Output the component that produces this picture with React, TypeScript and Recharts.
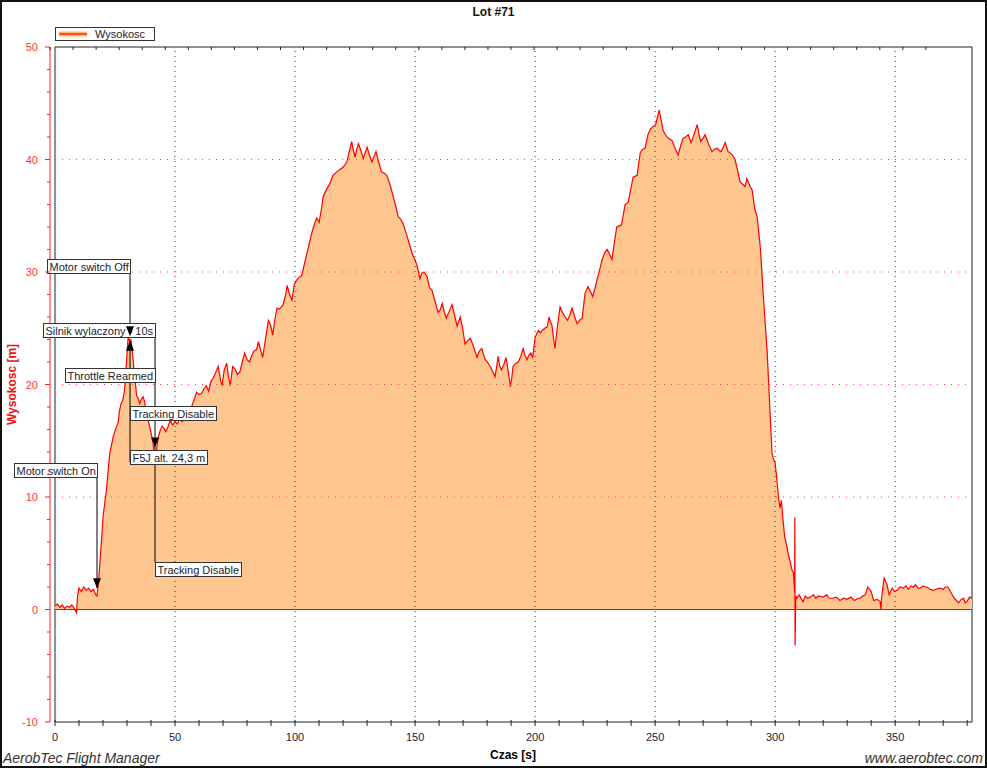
import React from 'react';
import { AreaChart, Area, XAxis, YAxis, ReferenceLine, ReferenceDot, ReferenceArea, Legend } from 'recharts';

const FONT = '"Liberation Sans", Arial, sans-serif';

// flight time [s]
const TIME_S = [
  0, 1, 2, 3, 4, 5, 6, 7, 8, 9, 9.4, 10, 11, 12, 13, 14, 15, 16, 17, 17.5,
  18.2, 18.8, 19.5, 20, 20.8, 21.5, 22.2, 22.9, 23.5, 24.2, 25, 25.7, 26.3, 26.8, 27.5, 28.2, 28.8, 29.3, 29.9, 30.5,
  31, 31.6, 32.2, 32.8, 33.3, 34, 34.6, 35.3, 36, 36.7, 37.3, 38, 38.7, 39.4, 40.1, 40.8, 41.3, 41.8, 42.3, 43,
  43.8, 44.6, 45.4, 46.2, 47, 48, 49, 50, 51, 52, 53, 54, 55, 56, 57, 58, 59, 60, 61, 62,
  63, 64, 65, 66, 67, 68, 69, 69.6, 70.5, 71.5, 72.2, 73, 74, 75, 76, 77, 78, 79, 80, 81,
  82, 83, 84, 84.7, 85.5, 86.5, 87.5, 88.9, 89.8, 90.7, 91.6, 92.5, 93.5, 94.3, 95, 96, 96.7, 97.7, 98.7, 99.7,
  100.7, 101.7, 102.8, 104, 105, 106, 107, 108, 109, 110, 111, 111.7, 113, 114.6, 115.8, 117.4, 118.5, 120, 121, 121.6,
  122.6, 123.6, 124.3, 125, 125.7, 126.4, 127.4, 128.4, 129.2, 130, 131, 132, 133, 133.7, 134.8, 136, 137, 138.2, 139.5, 140.9,
  142, 143, 144, 145, 146.5, 148, 149, 150, 151, 152, 152.8, 153.7, 155, 156, 157, 158.3, 159.6, 160.4, 161.3, 162.2,
  163, 164.2, 165.4, 166.4, 167.5, 168.8, 169.8, 170.8, 172, 173, 174.3, 175.2, 175.8, 176.8, 177.8, 179, 180.4, 181.3, 182.2, 183.3,
  184, 184.6, 185.3, 186, 187, 187.9, 188.8, 189.7, 190.3, 190.8, 192, 193, 194, 195, 195.8, 196.6, 197.4, 198.2, 199, 200,
  201.4, 202.3, 203, 204, 205, 205.8, 206.5, 207, 207.6, 208.3, 209.2, 210.4, 211.4, 212.5, 213.5, 214.5, 215.4, 216.5, 217.5, 218.5,
  219.6, 220.8, 222, 223, 224, 225, 225.8, 227, 227.9, 229, 230, 231, 232, 233, 234, 235, 236, 237.5, 238.8, 239.8,
  240.8, 241.6, 242.5, 243.8, 244.8, 245.8, 247, 248, 249, 250.2, 251.7, 252.5, 253.3, 254.3, 255.4, 257, 258.3, 259.6, 260.6, 261.7,
  262.7, 263.8, 265, 266.3, 267.5, 268.2, 269, 270, 270.8, 272.2, 273.7, 274.8, 275.8, 276.7, 277.5, 278.4, 279.2, 280.4, 281.8, 283.3,
  284.4, 285.4, 286.5, 287.5, 288.2, 288.8, 289.6, 290.4, 291.5, 292.5, 293.8, 295, 296.7, 297.9, 298.7, 299.4, 300, 300.6, 301.2, 302,
  302.6, 303.3, 304, 304.7, 305.4, 306.2, 307, 307.6, 308.1, 308.2, 308.3, 308.6, 309, 310, 311, 311.7, 312.5, 313.5, 314.6, 316,
  317, 318, 320, 321.5, 322.5, 324, 325.5, 327, 328.5, 330, 331.5, 333, 334.5, 335.4, 336.5, 337.5, 338.6, 339.3, 340, 341,
  342.5, 343.7, 344.1, 344.3, 344.6, 345.4, 346, 346.6, 347.5, 348.7, 349.8, 350.8, 352, 353.4, 354.5, 355.5, 356.5, 357.6, 358.5, 359.5,
  360.4, 361.5, 362.5, 363.3, 364.5, 365.9, 367, 368.5, 370, 371, 372, 373, 374.6, 375.5, 376.4, 377.5, 378.5, 379.2, 379.9, 381,
  382,
];

// altitude [m]
const ALTITUDE_M = [
  0.3, 0.5, 0.2, 0.4, 0.1, 0.3, 0.2, 0.4, 0.1, -0.3, 1.2, 1.9, 1.6, 2.0, 1.7, 1.9, 1.6, 1.8, 1.3, 1.2,
  2.6, 4.4, 6.5, 8.2, 9.6, 10.8, 12.5, 14.0, 14.6, 15.3, 15.9, 16.3, 16.6, 17.6, 18.3, 18.6, 19.2, 20.4, 22.4, 24.3,
  23.9, 24.0, 23.0, 21.6, 20.5, 19.0, 18.8, 18.3, 18.7, 18.9, 18.5, 17.6, 16.9, 16.3, 15.6, 15.0, 13.8, 13.0, 14.2, 15.3,
  15.9, 16.3, 16.1, 15.8, 16.2, 16.8, 16.4, 16.7, 16.5, 17.0, 16.7, 17.0, 17.4, 17.6, 18.1, 18.7, 19.3, 19.1, 19.2, 19.6,
  19.9, 19.4, 20.3, 20.6, 21.1, 21.6, 20.3, 19.9, 21.3, 21.9, 20.8, 19.9, 21.6, 21.4, 20.9, 21.1, 22.0, 22.8, 22.2, 22.0,
  22.6, 23.0, 23.1, 23.8, 23.2, 22.4, 23.8, 25.7, 25.3, 24.4, 25.8, 26.8, 26.7, 26.9, 27.1, 27.9, 28.8, 28.0, 27.5, 28.9,
  29.3, 29.5, 29.7, 30.8, 31.7, 32.6, 33.5, 34.2, 34.8, 34.4, 35.6, 36.7, 37.3, 37.9, 38.6, 38.9, 39.1, 39.3, 39.6, 39.8,
  40.7, 41.6, 40.8, 40.2, 40.9, 41.4, 40.8, 40.1, 40.6, 41.1, 40.4, 39.8, 40.3, 40.7, 39.8, 38.9, 38.8, 38.6, 37.8, 36.7,
  35.8, 34.9, 34.7, 34.3, 33.3, 32.2, 31.5, 31.1, 30.4, 29.4, 29.9, 30.0, 29.6, 28.6, 28.4, 27.4, 26.4, 26.6, 27.2, 26.4,
  25.9, 26.5, 27.1, 26.2, 25.2, 26.0, 25.0, 23.6, 23.9, 24.1, 23.4, 22.8, 22.4, 23.0, 23.2, 22.3, 21.9, 21.6, 21.2, 20.7,
  21.6, 22.5, 21.6, 21.3, 21.8, 22.4, 21.2, 19.8, 20.6, 21.6, 21.9, 22.0, 22.5, 23.2, 22.6, 22.2, 22.6, 22.8, 22.4, 24.2,
  24.8, 24.6, 24.8, 25.0, 25.1, 26.0, 25.5, 25.3, 24.2, 23.2, 25.0, 26.9, 26.4, 26.0, 25.7, 26.2, 26.8, 26.0, 25.4, 25.7,
  25.9, 28.1, 28.7, 28.3, 27.8, 28.6, 29.3, 30.3, 31.1, 31.7, 32.0, 31.6, 31.1, 32.6, 34.0, 34.1, 34.2, 36.0, 36.2, 37.3,
  38.4, 38.5, 38.6, 40.6, 40.9, 41.0, 42.2, 42.7, 42.9, 43.1, 44.4, 43.5, 42.6, 42.2, 41.9, 41.7, 41.0, 40.4, 41.2, 41.9,
  42.0, 42.2, 41.5, 42.3, 43.1, 42.3, 41.6, 41.9, 42.2, 41.4, 40.7, 40.9, 41.0, 40.8, 40.7, 41.1, 41.5, 40.7, 40.5, 40.0,
  39.0, 38.0, 37.8, 37.6, 38.3, 38.0, 37.6, 37.3, 35.6, 34.9, 32.2, 28.1, 22.8, 17.4, 13.9, 13.3, 13.0, 11.8, 10.4, 9.0,
  9.7, 7.9, 6.4, 5.8, 5.0, 4.3, 3.5, 3.3, 1.5, 8.2, -3.2, 1.2, 1.0, 1.3, 0.9, 0.7, 1.2, 1.0, 1.1, 1.3,
  1.0, 1.2, 1.1, 1.3, 1.0, 1.0, 1.1, 0.8, 1.0, 0.9, 1.1, 0.8, 1.0, 1.0, 1.2, 1.3, 2.0, 1.8, 1.6, 0.8,
  0.9, 0.7, 0.0, 1.0, 1.5, 2.8, 2.5, 2.2, 1.3, 1.9, 1.6, 1.7, 2.0, 1.9, 2.1, 1.8, 2.1, 2.0, 2.2, 1.9,
  1.9, 2.1, 2.0, 2.0, 1.8, 1.7, 1.8, 1.9, 1.8, 2.0, 2.0, 1.6, 1.0, 0.8, 0.6, 0.9, 1.0, 0.6, 0.7, 1.1,
  1.0,
];

const X_TICKS = [0, 10, 20, 30, 40, 50, 60, 70, 80, 90, 100, 110, 120, 130, 140, 150, 160, 170, 180, 190,
  200, 210, 220, 230, 240, 250, 260, 270, 280, 290, 300, 310, 320, 330, 340, 350, 360, 370, 380];
const X_LABELS = [0, 50, 100, 150, 200, 250, 300, 350];
const Y_TICKS = [-10, -8, -6, -4, -2, 0, 2, 4, 6, 8, 10, 12, 14, 16, 18, 20, 22, 24, 26, 28, 30,
  32, 34, 36, 38, 40, 42, 44, 46, 48, 50];
const X_GRID = [50, 100, 150, 200, 250, 300, 350];
const Y_GRID = [10, 20, 30, 40];

// event markers: vertical leader lines, arrow heads and text boxes
const EVENT_LINES = [
  { t: 17.5, from: 11.8, to: 1.9 },
  { t: 31.25, from: 29.9, to: 24.2 },
  { t: 31.25, from: 23.9, to: 13.1 },
  { t: 41.67, from: 24.2, to: 4.2 },
];
const EVENT_ARROWS = [
  { t: 17.5, v: 1.9, dir: 'down' },
  { t: 31.25, v: 24.3, dir: 'down' },
  { t: 31.25, v: 23.9, dir: 'up' },
  { t: 41.67, v: 14.4, dir: 'down' },
];
const EVENT_LABELS = [
  { text: 'Silnik wylaczony - 10s', t: 41.67, v: 24.2, side: 'above' },
  { text: 'Throttle Rearmed', t: 41.67, v: 20.2, side: 'above' },
  { text: 'Motor switch Off', t: 31.25, v: 29.9, side: 'above' },
  { text: 'Tracking Disable', t: 31.25, v: 18.1, side: 'below' },
  { text: 'Tracking Disable', t: 41.67, v: 4.2, side: 'below' },
  { text: 'F5J alt. 24,3 m', t: 31.25, v: 14.2, side: 'below' },
  { text: 'Motor switch On', t: 17.5, v: 11.8, side: 'above' },
];

const data = TIME_S.map((t, i) => ({ t, alt: ALTITUDE_M[i] }));

let measureCtx: CanvasRenderingContext2D | null = null;
const textWidth = (s: string) => {
  if (!measureCtx) measureCtx = document.createElement('canvas').getContext('2d');
  if (!measureCtx) return s.length * 6;
  measureCtx.font = `11px ${FONT}`;
  return measureCtx.measureText(s).width;
};

const YTick = ({ x, y, payload }: any) => {
  const major = payload.value % 10 === 0;
  return (
    <g>
      <line x1={x} x2={x - (major ? 5 : 3)} y1={y} y2={y} stroke="#ff2020" />
      {major && (
        <text x={x - 12} y={y + 4} textAnchor="end" fontSize={11} fontFamily={FONT} fill="#ff3838">
          {payload.value}
        </text>
      )}
    </g>
  );
};

const XTick = ({ x, y, payload }: any) => (
  <g>
    <line x1={x} x2={x} y1={y - 2} y2={y + 4} stroke="#222" />
    {X_LABELS.includes(payload.value) && (
      <text x={x} y={y + 19} textAnchor="middle" fontSize={11} fontFamily={FONT} fill="#223">
        {payload.value}
      </text>
    )}
  </g>
);

const TopTick = ({ x, y }: any) => <line x1={x} x2={x} y1={y} y2={y + 3} stroke="#222" />;

const LabelBox = ({ cx, cy, text, side }: any) => {
  const w = Math.round(textWidth(text)) + 4;
  const h = 14;
  const x = Math.round(side === 'above' ? cx - w : cx) + 0.5;
  const y = Math.round(side === 'above' ? cy - h : cy) + 0.5;
  return (
    <g>
      <rect x={x} y={y} width={w} height={h} fill="#fff" stroke="#333" />
      <text x={x + 2} y={y + 11} fontSize={11} fontFamily={FONT} fill="#1c1c2c">
        {text}
      </text>
    </g>
  );
};

const Arrow = ({ cx, cy, dir }: any) => {
  const s = dir === 'down' ? -1 : 1;
  return <polygon points={`${cx - 4},${cy + s * 10} ${cx + 4},${cy + s * 10} ${cx},${cy}`} fill="#000" />;
};

const LegendBox = () => (
  <div
    style={{
      width: 100,
      height: 14,
      boxSizing: 'border-box',
      border: '1px solid #333',
      background: '#fff',
      display: 'flex',
      alignItems: 'center',
      fontFamily: FONT,
      fontSize: 11,
      color: '#1c1c2c',
    }}
  >
    <svg width={28} height={8} style={{ marginLeft: 3 }}>
      <line x1={0} x2={28} y1={4} y2={4} stroke="#ffb77c" strokeWidth={5} />
      <line x1={0} x2={28} y1={4} y2={4} stroke="#ff2a00" strokeWidth={1.5} />
    </svg>
    <span style={{ marginLeft: 8 }}>Wysokosc</span>
  </div>
);

const App = () => (
  <div style={{ position: 'absolute', left: 0, top: 0, width: 987, height: 768, background: '#fff', overflow: 'hidden' }}>
    <AreaChart
      width={987}
      height={768}
      data={data}
      margin={{ top: 46, right: 15, bottom: 0, left: 0 }}
      style={{ fontFamily: FONT }}
    >
      <ReferenceArea x1={0} x2={382} y1={-10} y2={50} fill="none" stroke="#222" ifOverflow="visible" />
      <XAxis
        dataKey="t"
        type="number"
        domain={[-2.083, 382]}
        ticks={X_TICKS}
        interval={0}
        allowDataOverflow
        axisLine={false}
        tickLine={false}
        tickSize={0}
        tickMargin={0}
        height={46}
        tick={(p: any) => <XTick {...p} />}
        label={{
          value: 'Czas [s]',
          position: 'insideBottom',
          offset: 9,
          dx: 2,
          fill: '#000',
          style: { fontWeight: 'bold', fontSize: 12, fontFamily: FONT },
        }}
      />
      <XAxis
        xAxisId="top"
        orientation="top"
        type="number"
        domain={[-2.083, 382]}
        ticks={X_TICKS}
        interval={0}
        allowDataOverflow
        axisLine={false}
        tickLine={false}
        tickSize={0}
        tickMargin={0}
        height={1}
        tick={(p: any) => <TopTick {...p} />}
      />
      <YAxis
        type="number"
        domain={[-10, 50]}
        ticks={Y_TICKS}
        interval={0}
        allowDataOverflow
        width={50}
        axisLine={{ stroke: '#ff2020' }}
        tickLine={false}
        tickSize={0}
        tickMargin={0}
        tick={(p: any) => <YTick {...p} />}
        label={{
          value: 'Wysokosc [m]',
          angle: -90,
          position: 'insideLeft',
          offset: 12,
          fill: '#ee1111',
          style: { textAnchor: 'middle', fontWeight: 'bold', fontSize: 12, fontFamily: FONT },
        }}
      />
      <Legend
        layout="vertical"
        align="center"
        verticalAlign="middle"
        wrapperStyle={{ position: 'absolute', left: 55, top: 27, width: 100, height: 14 }}
        content={() => <LegendBox />}
      />
      <Area
        type="linear"
        dataKey="alt"
        stroke="#ff0000"
        strokeWidth={1.2}
        fill="#ffc690"
        fillOpacity={1}
        baseValue={0}
        dot={false}
        activeDot={false}
        isAnimationActive={false}
      />
      {X_GRID.map((x) => (
        <ReferenceLine key={`gx${x}`} x={x} stroke="#333" strokeDasharray="1 4" />
      ))}
      {Y_GRID.map((y) => (
        <ReferenceLine
          key={`gy${y}`}
          segment={[{ x: 0, y }, { x: 382, y }]}
          stroke="#ff4040"
          strokeDasharray="1 6"
        />
      ))}
      <ReferenceLine segment={[{ x: 0, y: 0 }, { x: 382, y: 0 }]} stroke="#ff0000" />
      {EVENT_LINES.map((e, i) => (
        <ReferenceLine key={`el${i}`} segment={[{ x: e.t, y: e.from }, { x: e.t, y: e.to }]} stroke="#000" />
      ))}
      {EVENT_LABELS.map((e, i) => (
        <ReferenceDot
          key={`lb${i}`}
          x={e.t}
          y={e.v}
          r={1}
          ifOverflow="visible"
          shape={(p: any) => <LabelBox cx={p.cx} cy={p.cy} text={e.text} side={e.side} />}
        />
      ))}
      {EVENT_ARROWS.map((e, i) => (
        <ReferenceDot
          key={`ar${i}`}
          x={e.t}
          y={e.v}
          r={1}
          ifOverflow="visible"
          shape={(p: any) => <Arrow cx={p.cx} cy={p.cy} dir={e.dir} />}
        />
      ))}
    </AreaChart>
    <div
      style={{
        position: 'absolute',
        left: 0,
        top: 5,
        width: 987,
        textAlign: 'center',
        fontFamily: FONT,
        fontWeight: 'bold',
        fontSize: 12,
        lineHeight: '14px',
        color: '#111',
      }}
    >
      Lot #71
    </div>
    <div
      style={{
        position: 'absolute',
        left: 3,
        top: 750,
        fontFamily: FONT,
        fontStyle: 'italic',
        fontSize: 14,
        lineHeight: '16px',
        color: '#333',
      }}
    >
      AerobTec Flight Manager
    </div>
    <div
      style={{
        position: 'absolute',
        right: 4,
        top: 750,
        fontFamily: FONT,
        fontStyle: 'italic',
        fontSize: 14,
        lineHeight: '16px',
        color: '#333',
      }}
    >
      www.aerobtec.com
    </div>
    <div
      style={{
        position: 'absolute',
        left: 0,
        top: 0,
        width: 987,
        height: 768,
        boxSizing: 'border-box',
        border: '2px solid #111',
        pointerEvents: 'none',
      }}
    />
  </div>
);

export default App;
